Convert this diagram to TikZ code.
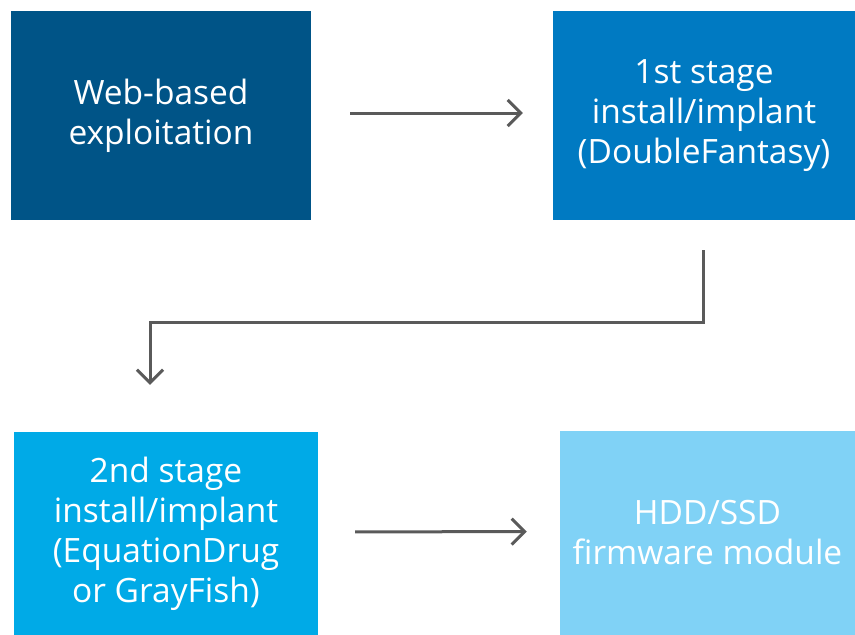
\documentclass[tikz,border=0pt]{standalone}
\usepackage{fontspec}
\setmainfont{Open Sans}
\usetikzlibrary{arrows.meta}
\definecolor{cA}{RGB}{0,84,135}
\definecolor{cB}{RGB}{0,122,194}
\definecolor{cC}{RGB}{0,170,231}
\definecolor{cD}{RGB}{128,210,246}
\definecolor{cArr}{RGB}{90,90,90}
\tikzset{
  box/.style={rectangle, inner sep=0pt, text=white, align=center,
    font=\fontsize{33.5}{40}\selectfont},
  arr/.style={draw=cArr, line width=3pt,
    -{Straight Barb[length=13pt,width=26pt,line width=3pt]}}
}
\begin{document}
\begin{tikzpicture}[x=1pt,y=-1pt]
\useasboundingbox (0,0) rectangle (855,635);
\node[box, fill=cA, minimum width=300pt, minimum height=209pt] (b1) at (161,115.5) {Web-based\\exploitation};
\node[box, fill=cB, minimum width=302pt, minimum height=209pt] (b2) at (704,115.5) {1st stage\\install/implant\\(DoubleFantasy)};
\node[box, fill=cC, minimum width=304pt, minimum height=203pt] (b3) at (166,533.5) {2nd stage\\install/implant\\(EquationDrug\\or GrayFish)};
\node[box, fill=cD, minimum width=295pt, minimum height=204pt] (b4) at (707.5,533) {HDD/SSD\\firmware module};
\coordinate (e1) at (703,322);
\coordinate (e2) at (150,322);
\draw[arr, shorten <=39pt, shorten >=30pt] ([yshift=2.5pt]b1.east) -- ([yshift=2.5pt]b2.west);
\draw[arr, shorten <=30pt, shorten >=47pt] (b2.south -| e1) -- (e1) -- (e2) -- (e2 |- b3.north);
\draw[arr, shorten <=37pt, shorten >=33pt] ([yshift=1.5pt]b3.east) -- ([yshift=1.5pt]b4.west);
\end{tikzpicture}
\end{document}
